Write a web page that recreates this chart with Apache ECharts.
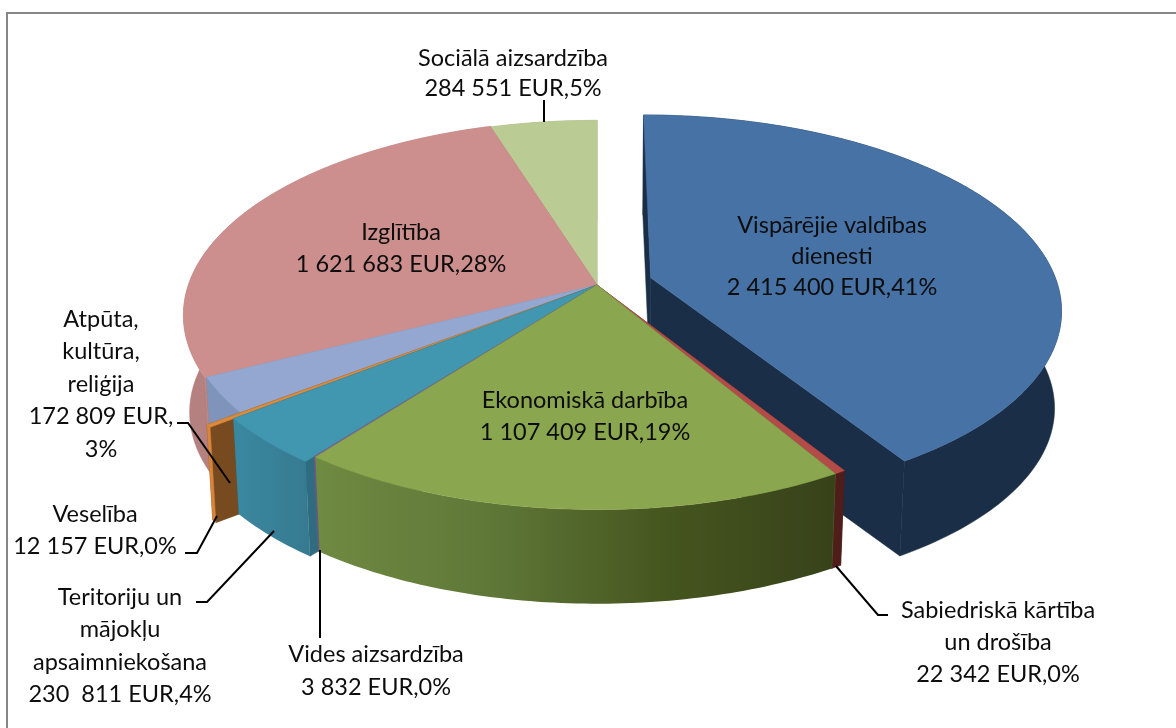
<!DOCTYPE html>
<html><head><meta charset="utf-8">
<style>html,body{margin:0;padding:0;background:#fff}#c{width:1176px;height:728px}</style>
<script src="https://cdn.jsdelivr.net/npm/echarts@6/dist/echarts.min.js"></script>
</head><body><div id="c"></div>
<script>
// ---- data, in clockwise order from 12 o'clock
const categories = ['Vispārējie valdības dienesti','Sabiedriskā kārtība un drošība','Ekonomiskā darbība','Vides aizsardzība','Teritoriju un mājokļu apsaimniekošana','Veselība','Atpūta, kultūra, reliģija','Izglītība','Sociālā aizsardzība'];
const values = [2415400,22342,1107409,3832,230811,12157,172809,1621683,284551];
const labels = [
 'Vispārējie valdības\ndienesti\n2 415 400 EUR,41%',
 'Sabiedriskā kārtība\nun drošība\n22 342 EUR,0%',
 'Ekonomiskā darbība\n1 107 409 EUR,19%',
 'Vides aizsardzība\n3 832 EUR,0%',
 'Teritoriju un\nmājokļu\napsaimniekošana\n230  811 EUR,4%',
 'Veselība\n12 157 EUR,0%',
 'Atpūta,\nkultūra,\nreliģija\n172 809 EUR,\n3%',
 'Izglītība\n1 621 683 EUR,28%',
 'Sociālā aizsardzība\n284 551 EUR,5%'
];
// ---- styles
const topColors  = ['#4672A6','#B34C48','#8AA64E','#7A62A0','#4196B0','#DA8A3C','#93A7D0','#CD8F8D','#BACC94'];
const wallColors = ['#1B2E47','#4F1E1B',['#6F8A42','#5F7838','#46561F','#37421A'],'#6A5590',['#3A88A0','#367A90'],'#D8853A','#7F94BA','#B58080','#9DAE7E'];
const faceColors = ['#1B2E47','#4F1E1B','#5F7838','#6A5590','#2F6C80','#774A20','#7F94BA','#B58080','#9DAE7E'];
const radiusScale = [1,1,1,1,1.026,1.085,1,1.004,1];
const explode     = [0.138,0,0,0,0,0,0,0,0];
const drawOrder   = [0,8,7,6,5,4,3,1,2];
// ---- 3D projection
const CX=597, CY=285, RX=407, RY=190, K=0.154, BOTTOM_SCALE=0.985, DEPTH=97.5;
const total = values.reduce((a,b)=>a+b,0);
const starts=[]; values.reduce((acc,v,i)=>{starts[i]=acc/total*2*Math.PI;return acc+v;},0);
function project(u,v,lower){
  const w=1+K*v, s=lower?BOTTOM_SCALE:1;
  return [CX+s*RX*u/w, CY+(lower?DEPTH:0)-s*RY*v/w];
}
function rim(i,th,lower,r){
  const d=explode[i], mid=starts[i]+values[i]/total*Math.PI;
  const ou=d*Math.sin(mid), ov=d*Math.cos(mid);
  return project(ou+(r||0)*Math.sin(th), ov+(r||0)*Math.cos(th), lower);
}
function fillOf(c){
  return Array.isArray(c)? new echarts.graphic.LinearGradient(0,0,1,0,c.map((col,j)=>({offset:j/(c.length-1),color:col}))) : c;
}
function poly(points,fill){
  return {type:'polygon',shape:{points},style:{fill,stroke:typeof fill==='string'?fill:null,lineWidth:typeof fill==='string'?0.5:0}};
}
function renderSlice(params,api){
  const i=api.value(0), a0=starts[i], a1=a0+values[i]/total*2*Math.PI, R=radiusScale[i];
  const n=Math.max(2,Math.ceil((a1-a0)*60));
  const up=[],lo=[];
  for(let j=0;j<=n;j++){const th=a0+(a1-a0)*j/n; up.push(rim(i,th,false,R)); lo.push(rim(i,th,true,R));}
  const apexU=rim(i,a0,false,0), apexL=rim(i,a0,true,0);
  return {type:'group',children:[
    poly([apexU,up[n],lo[n],apexL],faceColors[i]),
    poly([apexU,up[0],lo[0],apexL],faceColors[i]),
    poly(up.concat(lo.slice().reverse()),fillOf(wallColors[i])),
    poly([apexU].concat(up),topColors[i])
  ]};
}
// ---- annotation layout
const FONT='Lato';
const labelCenters=[[832,256,31],[998,642,32],[585,416,32],[376,671,33],[120,646,32.5],[95,530,32],[101,384,32.5],[401,248,32],[513,73,30]];
const leaders=[
 [[836,566],[878,615],[888,615]],
 [[320,550],[320,638]],
 [[274,531],[207,602],[196,602]],
 [[217,516],[197,553],[185,553]],
 [[230,483],[188,423],[177,423]],
 [[544,100],[544,122]]
];
const graphics=[
 {type:'polyline',silent:true,z:1,shape:{points:[[7,728],[7,13],[1176,13]]},style:{stroke:'#868686',lineWidth:2,fill:null}}
];
leaders.forEach(p=>graphics.push({type:'polyline',silent:true,z:20,shape:{points:p},style:{stroke:'#000',lineWidth:2,fill:null}}));
labels.forEach((t,i)=>graphics.push({type:'text',silent:true,z:30,x:labelCenters[i][0],y:labelCenters[i][1],
  style:{text:t,fill:'#0d0d0d',font:'23.5px '+FONT,align:'center',verticalAlign:'middle',lineHeight:labelCenters[i][2]}}));

const chart=echarts.init(document.getElementById('c'),null,{renderer:'canvas'});
chart.setOption({
  animation:false,
  backgroundColor:'#fff',
  tooltip:{show:false},
  graphic:graphics,
  series:[{type:'custom',coordinateSystem:'none',silent:true,clip:false,z:5,
    renderItem:renderSlice,
    encode:{itemName:1},
    data:drawOrder.map(i=>[i,categories[i],values[i]])}]
});
</script></body></html>
